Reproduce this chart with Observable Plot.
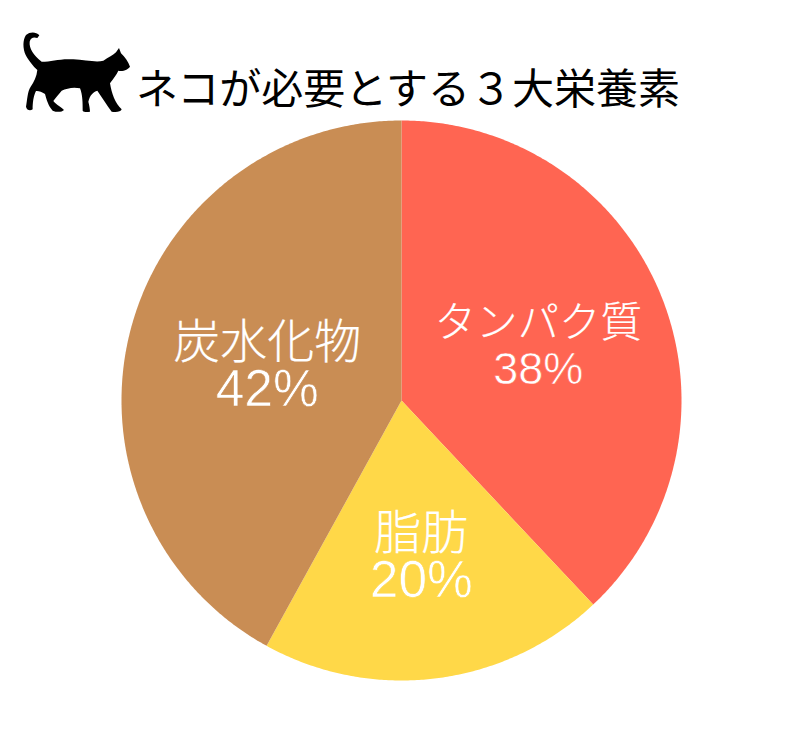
<!DOCTYPE html>
<html lang="ja">
<head>
<meta charset="utf-8">
<script src="https://cdn.jsdelivr.net/npm/d3@7"></script>
<script src="https://cdn.jsdelivr.net/npm/@observablehq/plot@0.6"></script>
<style>
html,body{margin:0;padding:0;background:#fff;overflow:hidden}
#head{position:relative;height:110px;width:800px}
#cat{position:absolute;left:10px;top:20px;width:130px;height:105px}
#title{position:absolute;left:136px;top:56px;font:400 42px/60px "Noto Sans CJK JP";color:#000;white-space:nowrap}
#chart svg{display:block}
</style>
</head>
<body>
<div id="head">
<svg id="cat" viewBox="0 0 390 315"><path fill="#000" d="M88 46 L82 54 C72 50 62 52 59 65 C57 85 70 105 95 125 C125 125 150 115 190 118 C225 120 260 128 280 122 C295 112 310 105 318 97 L327 84 L333 100 C345 112 355 125 360 140 C355 148 340 155 325 152 C320 165 310 175 300 190 C305 220 315 250 335 268 C333 276 318 277 305 275 C290 255 275 230 262 212 C250 215 240 225 235 245 C238 255 240 268 240 275 C230 277 222 277 218 272 C218 250 218 225 210 205 C190 200 170 205 155 212 C145 225 135 235 130 243 C140 255 155 262 162 270 C155 277 140 277 128 272 C115 258 110 240 105 222 C95 215 85 212 78 213 C70 228 68 250 68 268 C60 274 50 270 48 260 C52 240 52 215 62 200 C72 185 80 170 82 150 C70 140 55 120 47 105 C38 85 38 60 48 45 C60 35 78 35 88 46 Z"/></svg>
<div id="title">ネコが必要とする３大栄養素</div>
</div>
<div id="chart"></div>
<script>
const categories = ["タンパク質", "脂肪", "炭水化物"];
const shares = [38, 20, 42];
const sliceColors = ["#FF6552", "#FFD848", "#C98D54"];
const labelRadii = [0.525, 0.565, 0.495];
const nameSizes = [41.5, 47, 47];
const pctSizes = [45, 51.5, 51.5];

const total = d3.sum(shares);
const turn = v => (v / total) * 2 * Math.PI;
let cum = 0;
const outline = [];
const labels = [];
categories.forEach((name, i) => {
  const a0 = turn(cum), a1 = turn(cum + shares[i]);
  cum += shares[i];
  outline.push({name, x: 0, y: 0});
  const n = Math.ceil(shares[i] * 8);
  for (let k = 0; k <= n; k++) {
    const a = a0 + (a1 - a0) * k / n;
    outline.push({name, x: Math.sin(a), y: Math.cos(a)});
  }
  const m = (a0 + a1) / 2;
  labels.push({name, pct: shares[i] + "%", nameSize: nameSizes[i], pctSize: pctSizes[i],
    x: labelRadii[i] * Math.sin(m), y: labelRadii[i] * Math.cos(m)});
});

const R = 280;
const plot = Plot.plot({
  width: 800, height: 632,
  marginTop: 0, marginBottom: 0, marginLeft: 0, marginRight: 0,
  x: {domain: [-401 / R, 399 / R], axis: null},
  y: {domain: [-342 / R, 290 / R], axis: null},
  color: {domain: categories, range: sliceColors},
  marks: [
    Plot.line(outline, {x: "x", y: "y", z: "name", fill: "name", stroke: null, curve: "linear-closed"}),
    Plot.text(labels, {x: "x", y: "y", text: "name", dy: -23, fill: "#fff", stroke: "#fff", strokeWidth: 0.2,
      fontSize: d => d.nameSize, fontFamily: "Noto Sans CJK JP", fontWeight: 300}),
    Plot.text(labels, {x: "x", y: "y", text: "pct", dy: 23.5, fill: "#fff", stroke: "name", strokeWidth: 0.6,
      paintOrder: "fill", fontSize: d => d.pctSize, fontFamily: "Liberation Sans"})
  ]
});
document.getElementById("chart").append(plot);
</script>
</body>
</html>
